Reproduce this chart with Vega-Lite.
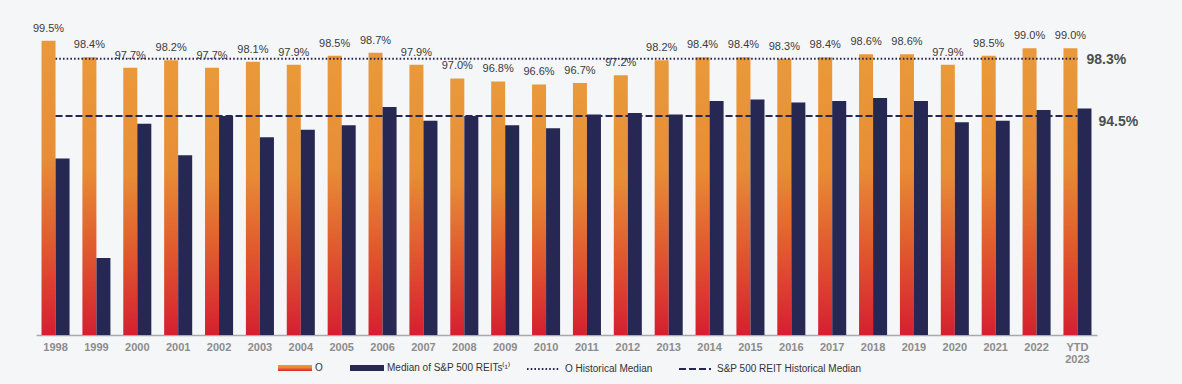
{
  "$schema": "https://vega.github.io/schema/vega-lite/v6.json",
  "autosize": {"type": "none"},
  "width": 1061,
  "height": 317,
  "padding": {"left": 36, "top": 18, "right": 85, "bottom": 49},
  "background": "#f5f6f8",
  "config": {"view": {"stroke": null}, "font": "Liberation Sans"},
  "datasets": {
    "bars": [
      {"year": "1998", "series": "O", "value": 0.995},
      {"year": "1999", "series": "O", "value": 0.984},
      {"year": "2000", "series": "O", "value": 0.977},
      {"year": "2001", "series": "O", "value": 0.982},
      {"year": "2002", "series": "O", "value": 0.977},
      {"year": "2003", "series": "O", "value": 0.981},
      {"year": "2004", "series": "O", "value": 0.979},
      {"year": "2005", "series": "O", "value": 0.985},
      {"year": "2006", "series": "O", "value": 0.987},
      {"year": "2007", "series": "O", "value": 0.979},
      {"year": "2008", "series": "O", "value": 0.970},
      {"year": "2009", "series": "O", "value": 0.968},
      {"year": "2010", "series": "O", "value": 0.966},
      {"year": "2011", "series": "O", "value": 0.967},
      {"year": "2012", "series": "O", "value": 0.972},
      {"year": "2013", "series": "O", "value": 0.982},
      {"year": "2014", "series": "O", "value": 0.984},
      {"year": "2015", "series": "O", "value": 0.984},
      {"year": "2016", "series": "O", "value": 0.983},
      {"year": "2017", "series": "O", "value": 0.984},
      {"year": "2018", "series": "O", "value": 0.986},
      {"year": "2019", "series": "O", "value": 0.986},
      {"year": "2020", "series": "O", "value": 0.979},
      {"year": "2021", "series": "O", "value": 0.985},
      {"year": "2022", "series": "O", "value": 0.990},
      {"year": "YTD 2023", "series": "O", "value": 0.990},
      {"year": "1998", "series": "Median of S&P 500 REITs⁽¹⁾", "value": 0.917},
      {"year": "1999", "series": "Median of S&P 500 REITs⁽¹⁾", "value": 0.851},
      {"year": "2000", "series": "Median of S&P 500 REITs⁽¹⁾", "value": 0.940},
      {"year": "2001", "series": "Median of S&P 500 REITs⁽¹⁾", "value": 0.919},
      {"year": "2002", "series": "Median of S&P 500 REITs⁽¹⁾", "value": 0.945},
      {"year": "2003", "series": "Median of S&P 500 REITs⁽¹⁾", "value": 0.931},
      {"year": "2004", "series": "Median of S&P 500 REITs⁽¹⁾", "value": 0.936},
      {"year": "2005", "series": "Median of S&P 500 REITs⁽¹⁾", "value": 0.939},
      {"year": "2006", "series": "Median of S&P 500 REITs⁽¹⁾", "value": 0.951},
      {"year": "2007", "series": "Median of S&P 500 REITs⁽¹⁾", "value": 0.942},
      {"year": "2008", "series": "Median of S&P 500 REITs⁽¹⁾", "value": 0.945},
      {"year": "2009", "series": "Median of S&P 500 REITs⁽¹⁾", "value": 0.939},
      {"year": "2010", "series": "Median of S&P 500 REITs⁽¹⁾", "value": 0.937},
      {"year": "2011", "series": "Median of S&P 500 REITs⁽¹⁾", "value": 0.946},
      {"year": "2012", "series": "Median of S&P 500 REITs⁽¹⁾", "value": 0.947},
      {"year": "2013", "series": "Median of S&P 500 REITs⁽¹⁾", "value": 0.946},
      {"year": "2014", "series": "Median of S&P 500 REITs⁽¹⁾", "value": 0.955},
      {"year": "2015", "series": "Median of S&P 500 REITs⁽¹⁾", "value": 0.956},
      {"year": "2016", "series": "Median of S&P 500 REITs⁽¹⁾", "value": 0.954},
      {"year": "2017", "series": "Median of S&P 500 REITs⁽¹⁾", "value": 0.955},
      {"year": "2018", "series": "Median of S&P 500 REITs⁽¹⁾", "value": 0.957},
      {"year": "2019", "series": "Median of S&P 500 REITs⁽¹⁾", "value": 0.955},
      {"year": "2020", "series": "Median of S&P 500 REITs⁽¹⁾", "value": 0.941},
      {"year": "2021", "series": "Median of S&P 500 REITs⁽¹⁾", "value": 0.942},
      {"year": "2022", "series": "Median of S&P 500 REITs⁽¹⁾", "value": 0.949},
      {"year": "YTD 2023", "series": "Median of S&P 500 REITs⁽¹⁾", "value": 0.950}
    ],
    "medians": [
      {"name": "O Historical Median", "value": 0.983, "start": "1998", "end": "YTD 2023"},
      {"name": "S&P 500 REIT Historical Median", "value": 0.945, "start": "1998", "end": "YTD 2023"}
    ]
  },
  "layer": [
    {
      "data": {"name": "bars"},
      "mark": {"type": "bar"},
      "encoding": {
        "x": {
          "field": "year", "type": "nominal",
          "scale": {"domain": ["1998","1999","2000","2001","2002","2003","2004","2005","2006","2007","2008","2009","2010","2011","2012","2013","2014","2015","2016","2017","2018","2019","2020","2021","2022","YTD 2023"], "paddingInner": 0.314, "paddingOuter": 0.135},
          "axis": {"title": null, "labelExpr": "split(datum.label, ' ')", "labelFont": "Liberation Sans", "labelFontWeight": "bold", "labelFontSize": 11, "labelColor": "#8c8c8c", "labelAngle": 0, "ticks": false, "labelPadding": 6, "labelLineHeight": 12, "domainColor": "#a9a9a9", "domainWidth": 1.5}
        },
        "xOffset": {"field": "series", "type": "nominal", "scale": {"domain": ["O", "Median of S&P 500 REITs⁽¹⁾"], "paddingInner": 0, "paddingOuter": 0}},
        "y": {"field": "value", "type": "quantitative", "scale": {"domain": [0.8, 1.01], "zero": false, "nice": false}, "axis": null},
        "y2": {"datum": 0.8},
        "fill": {
          "field": "series", "type": "nominal",
          "scale": {"domain": ["O", "Median of S&P 500 REITs⁽¹⁾"], "range": [{"expr": "{gradient: 'linear', x1: 0, y1: 0, x2: 0, y2: 1, stops: [{offset: 0, color: '#e9993a'}, {offset: 0.4, color: '#e88d36'}, {offset: 0.7, color: '#e0582e'}, {offset: 1, color: '#d51f30'}]}"}, "#262752"]},
          "legend": {"title": null, "orient": "none", "legendX": 242, "legendY": 333, "direction": "horizontal", "symbolType": "M-1,-0.18H1V0.18H-1Z", "symbolSize": 1156, "symbolStrokeWidth": 0, "symbolOpacity": 1, "labelFontSize": 10, "labelColor": "#333333", "labelFont": "Liberation Sans", "labelOffset": 3, "columnPadding": 27, "padding": 0}
        }
      }
    },
    {
      "data": {"name": "bars"},
      "transform": [{"filter": "datum.series == 'O'"}],
      "mark": {"type": "text", "baseline": "middle", "dy": -12, "fontSize": 11, "color": "#3a3a3a", "font": "Liberation Sans"},
      "encoding": {
        "x": {"field": "year", "type": "nominal"},
        "xOffset": {"field": "series", "type": "nominal"},
        "y": {"field": "value", "type": "quantitative"},
        "text": {"field": "value", "type": "quantitative", "format": ".1%"}
      }
    },
    {
      "data": {"name": "medians"},
      "mark": {"type": "rule", "strokeWidth": 2, "color": "#262752"},
      "encoding": {
        "x": {"field": "start", "type": "nominal"},
        "x2": {"field": "end"},
        "y": {"field": "value", "type": "quantitative"},
        "strokeDash": {
          "field": "name", "type": "nominal",
          "scale": {"domain": ["O Historical Median", "S&P 500 REIT Historical Median"], "range": [[1.6, 2.1], [7, 3]]},
          "legend": {"title": null, "orient": "none", "legendX": 490, "legendY": 334, "direction": "horizontal", "symbolType": "stroke", "symbolSize": 1024, "symbolStrokeColor": "#262752", "symbolStrokeWidth": 2, "labelFontSize": 10, "labelColor": "#333333", "labelFont": "Liberation Sans", "labelOffset": 5, "columnPadding": 22, "padding": 0}
        }
      }
    },
    {
      "data": {"name": "medians"},
      "transform": [{"filter": "datum.name == 'O Historical Median'"}],
      "mark": {"type": "text", "align": "left", "baseline": "middle", "dx": 9, "dy": 1, "fontSize": 14, "fontWeight": "bold", "color": "#4d4d4d", "font": "Liberation Sans"},
      "encoding": {
        "x": {"field": "end", "type": "nominal"},
        "y": {"field": "value", "type": "quantitative"},
        "text": {"field": "value", "type": "quantitative", "format": ".1%"}
      }
    },
    {
      "data": {"name": "medians"},
      "transform": [{"filter": "datum.name == 'S&P 500 REIT Historical Median'"}],
      "mark": {"type": "text", "align": "left", "baseline": "middle", "dx": 21, "dy": 6, "fontSize": 14, "fontWeight": "bold", "color": "#4d4d4d", "font": "Liberation Sans"},
      "encoding": {
        "x": {"field": "end", "type": "nominal"},
        "y": {"field": "value", "type": "quantitative"},
        "text": {"field": "value", "type": "quantitative", "format": ".1%"}
      }
    }
  ]
}
